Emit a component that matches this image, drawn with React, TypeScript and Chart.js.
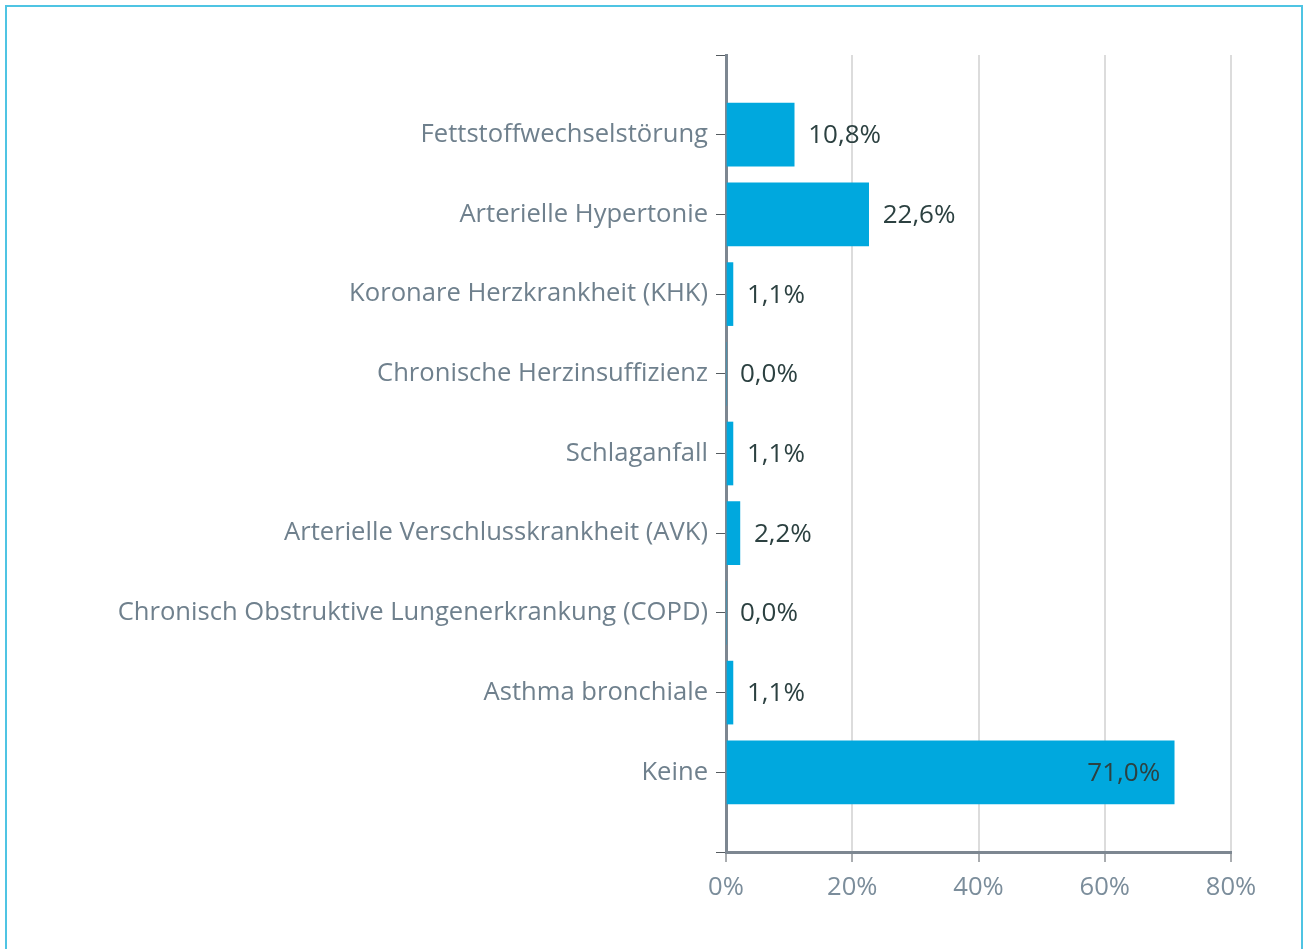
import React, { useEffect, useRef } from "react";
import { Chart, registerables } from "chart.js";

Chart.register(...registerables);

const categories = [
  "Fettstoffwechselstörung",
  "Arterielle Hypertonie",
  "Koronare Herzkrankheit (KHK)",
  "Chronische Herzinsuffizienz",
  "Schlaganfall",
  "Arterielle Verschlusskrankheit (AVK)",
  "Chronisch Obstruktive Lungenerkrankung (COPD)",
  "Asthma bronchiale",
  "Keine",
];
const values = [10.8, 22.6, 1.1, 0.0, 1.1, 2.2, 0.0, 1.1, 71.0];
const xMin = 0;
const xMax = 80;
const xStep = 20;
const insideThreshold = 50;

const FONT = '"Open Sans", "DejaVu Sans", sans-serif';
const fmt = (v: number) => v.toFixed(1).replace(".", ",") + "%";

const valueLabelPlugin = {
  id: "valueLabels",
  afterDatasetsDraw(chart: any) {
    const ctx = chart.ctx;
    const meta = chart.getDatasetMeta(0);
    const data = chart.data.datasets[0].data;
    ctx.save();
    ctx.font = `26px ${FONT}`;
    ctx.fillStyle = "#2c4141";
    ctx.textBaseline = "middle";
    meta.data.forEach((el: any, i: number) => {
      const v = data[i];
      if (v === null || v === undefined) return;
      const text = fmt(v);
      if (v >= insideThreshold) {
        ctx.textAlign = "right";
        ctx.fillText(text, el.x - 14, el.y + 1);
      } else {
        ctx.textAlign = "left";
        ctx.fillText(text, el.x + 14, el.y + 1);
      }
    });
    ctx.restore();
  },
};

export default function App() {
  const ref = useRef<HTMLCanvasElement | null>(null);

  useEffect(() => {
    document.body.style.margin = "0";
    const labels = ["", ...categories, ""];
    const data = [null, ...values, null];
    const chart = new Chart(ref.current as HTMLCanvasElement, {
      type: "bar",
      data: {
        labels,
        datasets: [
          {
            data,
            backgroundColor: "#00a8de",
            borderWidth: 0,
            barThickness: 63,
          },
        ],
      },
      plugins: [valueLabelPlugin],
      options: {
        indexAxis: "y",
        animation: false,
        responsive: false,
        devicePixelRatio: 1,
        layout: { padding: { top: 55, right: 73, bottom: 0, left: 0 } },
        plugins: {
          legend: { display: false },
          tooltip: { enabled: false },
        },
        scales: {
          x: {
            min: xMin,
            max: xMax,
            afterFit: (s: any) => {
              s.height = 97;
            },
            grid: {
              color: "#dcdcdc",
              lineWidth: 2,
              tickColor: "#555b60",
              tickLength: 10,
              tickWidth: 1,
            },
            border: { color: "#7d8791", width: 3 },
            ticks: {
              stepSize: xStep,
              color: "#7b8d9b",
              font: { family: FONT, size: 25.6 },
              padding: 10,
              callback: (v: any) => v + "%",
            },
          },
          y: {
            type: "category",
            offset: false,
            afterFit: (s: any) => {
              s.width = 726;
            },
            grid: {
              offset: false,
              drawOnChartArea: false,
              tickColor: "#555b60",
              tickLength: 10,
              tickWidth: 1,
            },
            border: { color: "#7d8791", width: 3 },
            ticks: {
              autoSkip: false,
              color: "#6f808d",
              font: { family: FONT, size: 25.6 },
              padding: 8,
            },
          },
        },
      },
    });
    return () => chart.destroy();
  }, []);

  return (
    <div
      style={{
        position: "fixed",
        left: 0,
        top: 0,
        width: 1304,
        height: 949,
        overflow: "hidden",
        background: "#ffffff",
      }}
    >
      <div
        style={{
          position: "absolute",
          left: 5,
          top: 5,
          width: 1298,
          height: 1100,
          border: "2px solid #4fc4e3",
          boxSizing: "border-box",
        }}
      />
      <canvas
        ref={ref}
        width={1304}
        height={949}
        style={{ position: "absolute", left: 0, top: 0, width: 1304, height: 949 }}
      />
    </div>
  );
}
